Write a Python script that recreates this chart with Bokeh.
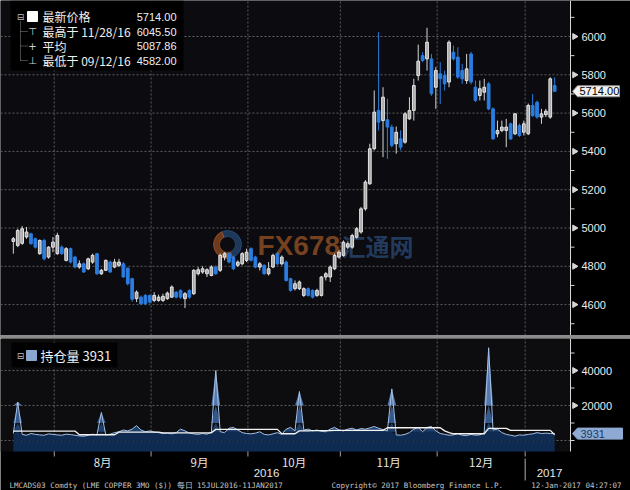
import numpy as np
from bokeh.plotting import figure
from bokeh.models import Range1d, ColumnDataSource, Div
from bokeh.layouts import column
from bokeh.embed import file_html
from bokeh.resources import INLINE
from bokeh.core.properties import value

# ---------------- data (LME copper 3M, daily, 15 Jul 2016 - 11 Jan 2017) ----------------
opens = [4930, 4909, 4920, 4953, 4970, 4944, 4866, 4935, 4848, 4900,
         4866, 4900, 4831, 4892, 4848, 4796, 4813, 4787, 4822, 4866,
         4761, 4779, 4822, 4796, 4805, 4813, 4790, 4735, 4631, 4639,
         4648, 4648, 4622, 4622, 4622, 4631, 4639, 4665, 4674, 4631,
         4674, 4657, 4761, 4770, 4761, 4752, 4796, 4779, 4848, 4866,
         4848, 4805, 4813, 4831, 4892, 4848, 4796, 4805, 4761, 4796,
         4866, 4813, 4822, 4735, 4683, 4683, 4648, 4683, 4674, 4648,
         4648, 4744, 4744, 4787, 4848, 4857, 4900, 4900, 4952, 4979,
         5100, 5231, 5414, 5614, 5561, 5565, 5527, 5440, 5466, 5448,
         5570, 5614, 5796, 5900, 5883, 5883, 5735, 5805, 5796, 5762,
         5918, 5892, 5822, 5770, 5909, 5735, 5692, 5709, 5753, 5622,
         5492, 5509, 5509, 5544, 5492, 5535, 5500, 5492, 5640, 5657,
         5579, 5592, 5579, 5744]
highs = [4953, 4996, 5010, 5005, 4975, 4950, 4940, 4944, 4905, 4953,
         4975, 4910, 4900, 4898, 4855, 4831, 4820, 4845, 4866, 4870,
         4787, 4835, 4830, 4839, 4839, 4822, 4795, 4740, 4674, 4648,
         4655, 4652, 4665, 4652, 4657, 4668, 4700, 4670, 4680, 4665,
         4680, 4785, 4796, 4800, 4790, 4805, 4805, 4866, 4874, 4870,
         4855, 4831, 4874, 4892, 4900, 4855, 4822, 4810, 4822, 4866,
         4874, 4857, 4830, 4740, 4726, 4726, 4690, 4690, 4680, 4683,
         4750, 4770, 4805, 4866, 4883, 4935, 4930, 4970, 5005, 5110,
         5250, 5440, 5718, 6023, 5735, 5675, 5540, 5530, 5510, 5605,
         5683, 5779, 5958, 5918, 6045.5, 5909, 5840, 5866, 5822, 5980,
         5953, 5944, 5857, 5909, 5920, 5770, 5770, 5779, 5762, 5630,
         5561, 5561, 5570, 5550, 5600, 5545, 5561, 5650, 5700, 5665,
         5622, 5622, 5787, 5787]
lows = [4866, 4900, 4912, 4944, 4912, 4892, 4860, 4831, 4840, 4874,
        4860, 4860, 4825, 4815, 4790, 4787, 4765, 4780, 4813, 4755,
        4755, 4775, 4765, 4790, 4796, 4740, 4700, 4615, 4613, 4600,
        4598, 4605, 4613, 4615, 4613, 4625, 4635, 4632, 4630, 4582,
        4630, 4650, 4752, 4761, 4744, 4748, 4755, 4770, 4831, 4815,
        4780, 4796, 4805, 4822, 4825, 4790, 4778, 4755, 4752, 4790,
        4805, 4805, 4720, 4668, 4674, 4676, 4640, 4642, 4632, 4640,
        4642, 4726, 4718, 4780, 4840, 4850, 4890, 4892, 4945, 4970,
        5090, 5225, 5405, 5509, 5370, 5361, 5420, 5388, 5405, 5440,
        5565, 5561, 5770, 5866, 5822, 5690, 5622, 5648, 5718, 5735,
        5875, 5779, 5753, 5753, 5750, 5657, 5666, 5666, 5615, 5461,
        5474, 5500, 5422, 5460, 5485, 5475, 5483, 5485, 5579, 5570,
        5544, 5579, 5570, 5710]
closes = [4944, 4987, 4996, 4979, 4918, 4900, 4935, 4839, 4900, 4926,
          4961, 4866, 4892, 4822, 4796, 4813, 4770, 4839, 4857, 4761,
          4779, 4831, 4770, 4822, 4822, 4744, 4709, 4628, 4665, 4604,
          4604, 4613, 4648, 4639, 4643, 4660, 4692, 4639, 4639, 4657,
          4639, 4779, 4782, 4787, 4782, 4796, 4761, 4857, 4866, 4822,
          4787, 4822, 4866, 4874, 4831, 4796, 4813, 4761, 4787, 4857,
          4813, 4848, 4726, 4674, 4709, 4718, 4683, 4648, 4639, 4674,
          4744, 4761, 4796, 4857, 4874, 4926, 4918, 4961, 4996, 5100,
          5240, 5414, 5605, 5553, 5683, 5527, 5431, 5500, 5422, 5596,
          5613, 5744, 5871, 5875, 5970, 5701, 5822, 5779, 5753, 5970,
          5883, 5788, 5779, 5831, 5762, 5666, 5727, 5735, 5622, 5465,
          5509, 5527, 5527, 5465, 5596, 5483, 5544, 5640, 5587, 5579,
          5596, 5610, 5779, 5714]

# open interest (持仓量) and its average line
open_interest = [4000, 22000, 3500, 3000, 4000, 3500, 3200, 3000, 3800, 3500,
                 3200, 3000, 3600, 3400, 3000, 2600, 2400, 3000, 3600, 3200,
                 16000, 3200, 3600, 4500, 5000, 6000, 5500, 6500, 8500, 6000,
                 5000, 5500, 4800, 4500, 4000, 4200, 3800, 4500, 6500, 5500,
                 4200, 3800, 3500, 4000, 3600, 4800, 40000, 5000, 4500, 7000,
                 7500, 6000, 4500, 4000, 3800, 4200, 5000, 3500, 3200, 3800,
                 4500, 3500, 6500, 7500, 5500, 28000, 6000, 6500, 5500, 6000,
                 5200, 5000, 6500, 7500, 6000, 5500, 6500, 7000, 6000, 6800,
                 6500, 7200, 8000, 7000, 6200, 5500, 29500, 3200, 3000, 3500,
                 4500, 6500, 7500, 5000, 7500, 8000, 5500, 4000, 3500, 3000,
                 3200, 4000, 3000, 2800, 3500, 3000, 3200, 4500, 53000, 6000,
                 6500, 4500, 3500, 3000, 2500, 3200, 3000, 3500, 3800, 4500,
                 4000, 4200, 4000, 3931]
oi_average = [5400, 5400, 5400, 5400, 5400, 5400, 5400, 5400, 5400, 5400,
              5400, 5400, 5400, 5400, 5400, 3300, 3300, 3300, 3300, 3300,
              3300, 3300, 3300, 3300, 4800, 4800, 4800, 4800, 4800, 4800,
              4800, 4800, 4800, 4800, 4400, 4400, 4400, 4400, 4400, 4400,
              4400, 4400, 4400, 4400, 4400, 4400, 6350, 6350, 6350, 6350,
              6350, 6350, 6350, 6350, 6350, 6350, 6350, 6350, 6350, 6350,
              6350, 3850, 3850, 3850, 3850, 5500, 5500, 5500, 5600, 5600,
              5700, 5700, 5700, 5800, 5800, 5800, 5800, 5800, 5800, 5800,
              5800, 5800, 5800, 5800, 5800, 7300, 7300, 7300, 7300, 7300,
              7300, 7300, 7300, 7300, 7300, 7300, 7300, 7300, 5500, 4500,
              3850, 3850, 3850, 3850, 3850, 3850, 3850, 3850, 6900, 6900,
              6900, 6900, 6900, 5800, 5800, 5800, 5800, 5800, 5800, 5800,
              5800, 5800, 5800, 3300]

price_ticks = [4600, 4800, 5000, 5200, 5400, 5600, 5800, 6000]
price_minor = [4500, 4700, 4900, 5100, 5300, 5500, 5700, 5900, 6100]
oi_ticks = [20000, 40000]
oi_minor = [0, 10000, 30000, 50000]
month_start = [9, 31, 53, 74, 96, 116]          # first trading day of Aug .. Jan
month_names = ["8月", "9月", "10月", "11月", "12月"]
year_names = ["2016", "2017"]
legend_names = ["最新价格", "最高于 11/28/16", "平均", "最低于 09/12/16"]
legend_values = ["5714.00", "6045.50", "5087.86", "4582.00"]
last_price = 5714.00
oi_name = "持仓量"
oi_last = 3931
footer_left = "LMCADS03 Comdty (LME COPPER    3MO ($))  每日 15JUL2016-11JAN2017"
footer_mid = "Copyright© 2017 Bloomberg Finance L.P."
footer_right = "12-Jan-2017 04:27:07"

# ---------------- layout helpers (page pixels -> data units) ----------------
W = 630
H1, HS, H2 = 335, 3, 152
FONT = "Liberation Sans"
CJK = "Noto Sans CJK SC"
AXC = "#d6d6d6"
GRIDC = "#5e5e5e"
PANEL = "#0b0b10"


def px(x):            # page x -> bar index units
    return -1.1 + (x - 8) * 127.7 / 562


def py1(y):           # page y -> price (upper panel)
    return 6000 - (y - 36) * 200 / 38.3


def py2(y):           # page y -> open interest (lower panel)
    return (440 - y) * 20000 / 35


n = len(closes)
xs = list(range(n))
bounds = [m + 0.3 for m in month_start]
mids = [(bounds[i] + bounds[i + 1]) / 2 for i in range(len(bounds) - 1)]
AX = px(570)          # right edge of plotting area


def base_fig(h, y0, y1):
    f = figure(width=W, height=h, x_range=Range1d(px(0), px(W)), y_range=Range1d(y0, y1),
               output_backend="svg", toolbar_location=None,
               x_axis_location=None, y_axis_location=None,
               min_border_left=0, min_border_right=0, min_border_top=0, min_border_bottom=0,
               background_fill_color="black", border_fill_color="black",
               outline_line_color=None)
    f.grid.visible = False
    return f


# ================= upper panel =================
p1 = base_fig(H1, py1(H1), py1(0))
ybot, ytop = py1(H1), py1(0)
p1.quad(left=[px(0)], right=[AX], bottom=[ybot], top=[ytop], fill_color=PANEL, line_color=None)
# grid
p1.segment(x0=[px(0)] * len(price_ticks), x1=[AX] * len(price_ticks), y0=price_ticks,
           y1=price_ticks, line_color=GRIDC, line_dash="2 2", line_width=1)
p1.segment(x0=bounds, x1=bounds, y0=[ybot] * len(bounds), y1=[ytop] * len(bounds),
           line_color=GRIDC, line_dash="2 2", line_width=1)
# right axis
p1.segment(x0=[AX], x1=[AX], y0=[ybot], y1=[ytop], line_color=AXC, line_width=1)
p1.scatter(x=[px(574)] * len(price_ticks), y=price_ticks, marker="triangle", angle=-np.pi / 2,
           size=6, fill_color=AXC, line_color=AXC)
p1.segment(x0=[AX] * len(price_minor), x1=[px(574)] * len(price_minor), y0=price_minor,
           y1=price_minor, line_color=AXC, line_width=1)
p1.text(x=[px(581)] * len(price_ticks), y=price_ticks, text=[str(t) for t in price_ticks],
        text_font=value(FONT), text_font_size="11px", text_color="#ececec",
        text_align="left", text_baseline="middle")

# watermark
p1.annular_wedge(x=[px(227)], y=[py1(244)], inner_radius=8, outer_radius=14,
                 inner_radius_units="screen", outer_radius_units="screen",
                 start_angle=-1.2, end_angle=2.0, color="#2f5e98", alpha=0.55)
p1.annular_wedge(x=[px(227)], y=[py1(244)], inner_radius=8, outer_radius=14,
                 inner_radius_units="screen", outer_radius_units="screen",
                 start_angle=2.0, end_angle=5.08, color="#c0622a", alpha=0.55)
p1.text(x=[px(257)], y=[py1(245)], text=["FX678"], text_font=value(FONT),
        text_font_style="bold", text_font_size="28px", text_color="#c0662a",
        text_alpha=0.6, text_baseline="middle", text_align="left")
p1.text(x=[px(341)], y=[py1(245)], text=["汇通网"], text_font=value(CJK),
        text_font_style="bold", text_font_size="24px", text_color="#3a6aa8",
        text_alpha=0.5, text_baseline="middle", text_align="left")

# candles
up = [c >= o for o, c in zip(opens, closes)]
src = ColumnDataSource(dict(
    x=xs, h=highs, l=lows,
    top=[max(o, c) for o, c in zip(opens, closes)],
    bottom=[min(o, c) for o, c in zip(opens, closes)],
    fc=["#a8a8a8" if u else "#2b7de0" for u in up],
    lc=["#e6e6e6" if u else "#2b7de0" for u in up],
    wc=["#d6d6d6" if u else "#2b7de0" for u in up],
))
p1.segment(x0="x", y0="l", x1="x", y1="h", line_color="wc", line_width=1, source=src)
p1.vbar(x="x", width=0.62, top="top", bottom="bottom", fill_color="fc",
        line_color="lc", line_width=1, source=src)

# legend box (top-left)
p1.quad(left=[px(10)], right=[px(183)], bottom=[py1(70)], top=[ytop],
        fill_color="black", fill_alpha=0.92, line_color=None)
row_y = [py1(16), py1(31), py1(45.5), py1(60)]
p1.multi_line(xs=[[px(20), px(20)], [px(20), px(27)], [px(20), px(27)], [px(20), px(27)]],
              ys=[[py1(21), row_y[3]], [row_y[1]] * 2, [row_y[2]] * 2, [row_y[3]] * 2],
              line_color="#8a8a8a", line_dash="1 1", line_width=1)
p1.text(x=[px(20)], y=[row_y[0]], text=["⊟"], text_font=value("DejaVu Sans"),
        text_font_size="9px", text_color="#bdbdbd", text_align="center", text_baseline="middle")
p1.scatter(x=[px(32)], y=[row_y[0]], marker="square", size=10, fill_color="white",
           line_color="white")
p1.text(x=[px(32)] * 3, y=row_y[1:], text=["⊤", "+", "⊥"], text_font=value("DejaVu Sans"),
        text_font_size="10px", text_color="#d0d0d0", text_align="center", text_baseline="middle")
p1.text(x=[px(42)] * 4, y=row_y, text=legend_names, text_font=value(CJK), text_font_size="12px",
        text_color="#f0f0f0", text_align="left", text_baseline="middle")
p1.text(x=[px(176)] * 4, y=row_y, text=legend_values, text_font=value(FONT),
        text_font_size="11px", text_color="#f0f0f0", text_align="right", text_baseline="middle")

# last price tag on the axis
hh1 = 5.5 * 200 / 38.3
p1.patch(x=[px(572), px(577), px(619), px(619), px(577)],
         y=[last_price, last_price + hh1, last_price + hh1, last_price - hh1, last_price - hh1],
         fill_color="#f2f2f2", line_color="#9a9a9a", line_width=1)
p1.text(x=[px(579)], y=[last_price], text=["%.2f" % last_price], text_font=value(FONT),
        text_font_size="11px", text_color="black", text_align="left", text_baseline="middle")

# ================= separator =================
sep = Div(text="", width=W, height=HS, margin=0, styles={"background-color": "#8c8c8c"})

# ================= lower panel =================
top2 = H1 + HS
p2 = base_fig(H2, py2(top2 + H2), py2(top2))
pb, pt = py2(451), py2(top2)
p2.quad(left=[px(0)], right=[AX], bottom=[pb], top=[pt], fill_color="#0d0d10", line_color=None)
p2.segment(x0=[px(0)] * 3, x1=[AX] * 3, y0=[0] + oi_ticks, y1=[0] + oi_ticks,
           line_color=GRIDC, line_dash="2 2", line_width=1)
p2.segment(x0=bounds, x1=bounds, y0=[pb] * len(bounds), y1=[pt] * len(bounds),
           line_color=GRIDC, line_dash="2 2", line_width=1)

oi = np.array(open_interest, dtype=float)
bands = [(0, 5000, "#0f2b52"), (5000, 10000, "#1f3f6c"), (10000, 20000, "#35598c"),
         (20000, 60000, "#5679ab")]
p2.varea(x=[xs[0], xs[-1]], y1=[pb, pb], y2=[0, 0], fill_color="#0f2b52")
for lo, hi, col in bands:
    p2.varea(x=xs, y1=np.clip(oi, lo, hi), y2=np.full(n, lo, dtype=float), fill_color=col)
p2.line(xs, open_interest, line_color="#a3c0e6", line_width=1)
p2.line(xs, oi_average, line_color="#f2f2f2", line_width=1.3)

# right axis (lower)
p2.segment(x0=[AX], x1=[AX], y0=[pb], y1=[pt], line_color=AXC, line_width=1)
p2.scatter(x=[px(574)] * len(oi_ticks), y=oi_ticks, marker="triangle", angle=-np.pi / 2,
           size=6, fill_color=AXC, line_color=AXC)
p2.segment(x0=[AX] * len(oi_minor), x1=[px(574)] * len(oi_minor), y0=oi_minor, y1=oi_minor,
           line_color=AXC, line_width=1)
p2.text(x=[px(581)] * len(oi_ticks), y=oi_ticks, text=[str(t) for t in oi_ticks],
        text_font=value(FONT), text_font_size="11px", text_color="#ececec",
        text_align="left", text_baseline="middle")
hh2 = 5.5 * 20000 / 35
p2.patch(x=[px(572), px(577), px(622), px(622), px(577)],
         y=[oi_last, oi_last + hh2, oi_last + hh2, oi_last - hh2, oi_last - hh2],
         fill_color="#8eaad2", line_color="#8eaad2", line_width=1)
p2.text(x=[px(580)], y=[oi_last], text=["%d" % oi_last], text_font=value(FONT),
        text_font_size="11px", text_color="#1c3a66", text_align="left", text_baseline="middle")

# lower legend
p2.quad(left=[px(11)], right=[px(117)], bottom=[py2(367)], top=[py2(342)],
        fill_color="black", fill_alpha=0.92, line_color=None)
p2.text(x=[px(20)], y=[py2(355)], text=["⊟"], text_font=value("DejaVu Sans"),
        text_font_size="9px", text_color="#bdbdbd", text_align="center", text_baseline="middle")
p2.scatter(x=[px(31)], y=[py2(355)], marker="square", size=10, fill_color="#8aa6cf",
           line_color="#8aa6cf")
p2.text(x=[px(40)], y=[py2(355)], text=["%s %d" % (oi_name, oi_last)], text_font=value(CJK),
        text_font_size="13px", text_color="#f0f0f0", text_align="left", text_baseline="middle")

# time axis
p2.segment(x0=bounds, x1=bounds, y0=[pb] * len(bounds), y1=[py2(456)] * len(bounds),
           line_color="#a0a0a0", line_width=1)
p2.text(x=mids, y=[py2(461)] * len(mids), text=month_names, text_font=value(CJK),
        text_font_size="11.5px", text_color="#e6e6e6", text_align="center",
        text_baseline="middle")
p2.text(x=[px(266), px(549)], y=[py2(472)] * 2, text=year_names, text_font=value(FONT),
        text_font_size="11.5px", text_color="#e6e6e6", text_align="center",
        text_baseline="middle")
p2.segment(x0=[bounds[-1]], x1=[bounds[-1]], y0=[py2(458)], y1=[py2(480)],
           line_color="#b0b0b0", line_width=1)

# footer
p2.text(x=[px(9), px(331), px(621)], y=[py2(485)] * 3,
        text=[footer_left, footer_mid, footer_right], text_font=value("DejaVu Sans Mono"),
        text_font_size="7.5px", text_color="#c4c4c4", text_align=["left", "left", "right"],
        text_baseline="middle")

layout = column(p1, sep, p2, spacing=0)
open("out.html", "w").write(file_html(layout, INLINE))
